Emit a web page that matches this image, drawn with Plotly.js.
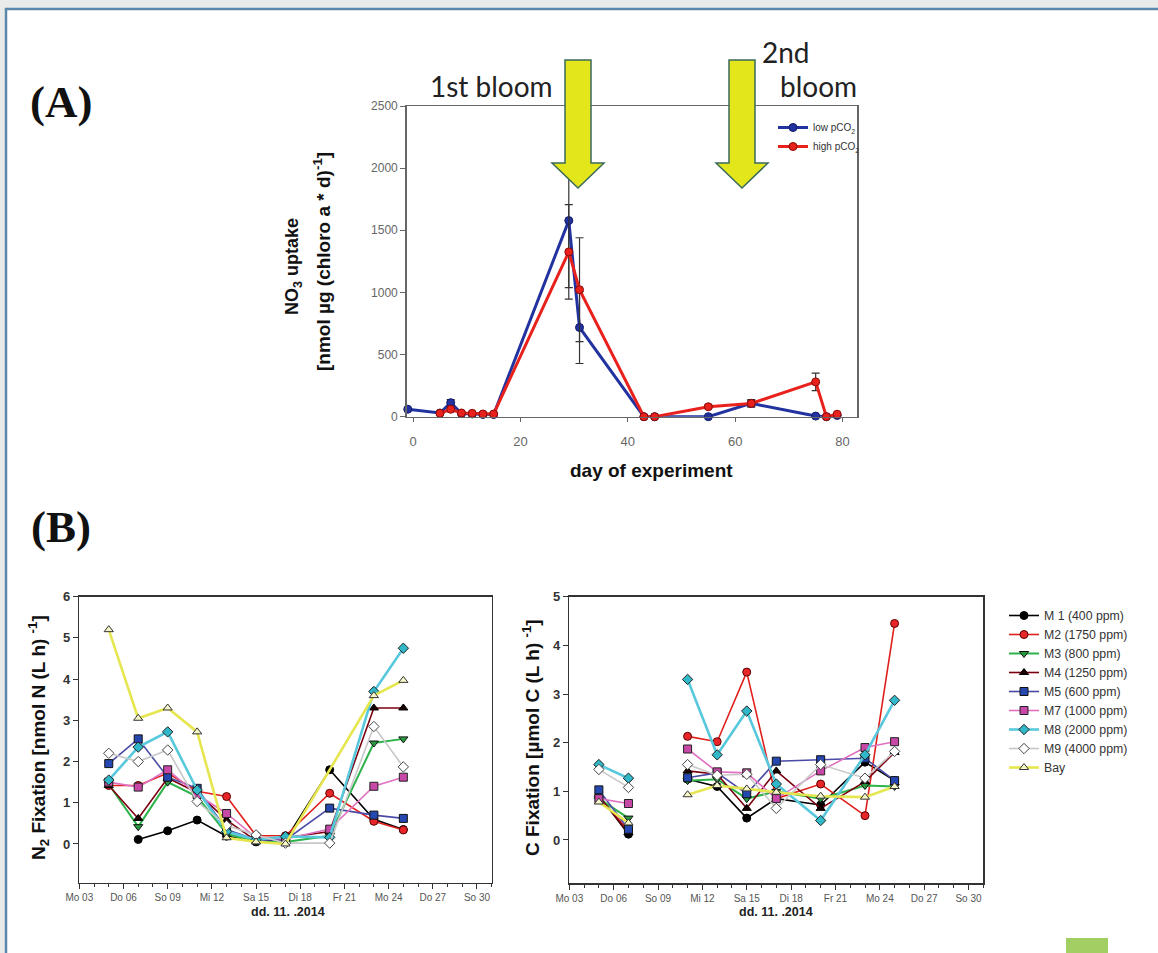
<!DOCTYPE html>
<html><head><meta charset="utf-8">
<script src="https://cdn.plot.ly/plotly-3.0.1.min.js"></script>
<style>html,body{margin:0;padding:0;background:#e9ebea}</style>
</head><body><div id="chart" style="width:1158px;height:953px"></div>
<script>
// ---------- Panel A data ----------
const dayLow  = [-1, 5, 7, 9, 11, 13, 15, 29, 31, 43, 45, 55, 63, 75, 77, 79];
const uptakeLow = [60, 30, 113, 25, 22, 18, 18, 1578, 718, 0, 0, 0, 107, 5, 0, 10];
const errLow  = [null, null, 25, null, null, null, null, 540, 290, null, null, null, 30, null, null, null];
const dayHigh = [5, 7, 9, 11, 13, 15, 29, 31, 43, 45, 55, 63, 75, 77, 79];
const uptakeHigh = [27, 60, 30, 27, 22, 22, 1326, 1022, 0, 0, 80, 107, 280, 0, 20];
const errHigh = [null, 20, null, null, null, null, 380, 418, null, null, 15, 25, 70, null, null];
const seriesA = ["low pCO<sub>2</sub>", "high pCO<sub>2</sub>"];
const ticksA_x = [0, 20, 40, 60, 80];
const ticksA_y = [0, 500, 1000, 1500, 2000, 2500];

// ---------- Panel B data (day of November 2014) ----------
const datesN2 = [5, 7, 9, 11, 13, 15, 17, 20, 23, 25];
const datesC  = [5, 7, 9, 11, 13, 15, 17, 20, 23, 25];
const dateTickVals = [3, 6, 9, 12, 15, 18, 21, 24, 27, 30];
const dateTickText = ["Mo 03", "Do 06", "So 09", "Mi 12", "Sa 15", "Di 18", "Fr 21", "Mo 24", "Do 27", "So 30"];
const seriesB = ["M 1 (400 ppm)", "M2 (1750 ppm)", "M3 (800 ppm)", "M4 (1250 ppm)", "M5 (600 ppm)",
                 "M7 (1000 ppm)", "M8 (2000 ppm)", "M9 (4000 ppm)", "Bay"];

const n2_M1  = [null, 0.11, 0.32, 0.58, 0.19, 0.05, 0.10, 1.80, 0.60, 0.35];
const n2_M2  = [1.42, 1.42, 1.72, 1.28, 1.15, 0.20, 0.20, 1.23, 0.55, 0.34];
const n2_M3  = [1.45, 0.42, 1.50, 1.15, 0.25, 0.05, 0.05, 0.20, 2.45, 2.55];
const n2_M4  = [1.42, 0.62, 1.60, 1.25, 0.58, 0.08, 0.15, 0.30, 3.30, 3.30];
const n2_M5  = [1.95, 2.55, 1.62, 1.35, 0.35, 0.10, 0.10, 0.87, 0.70, 0.62];
const n2_M7  = [1.50, 1.38, 1.80, 1.20, 0.74, 0.15, 0.12, 0.36, 1.40, 1.62];
const n2_M8  = [1.55, 2.35, 2.72, 1.31, 0.30, 0.10, 0.18, 0.16, 3.70, 4.75];
const n2_M9  = [2.20, 2.00, 2.28, 1.03, 0.45, 0.22, 0.02, 0.02, 2.85, 1.87];
const n2_Bay = [5.20, 3.05, 3.30, 2.72, 0.15, 0.05, 0.00, null, 3.60, 3.97];

const c_M1  = [0.92, 0.12, null, 1.25, 1.10, 0.45, 0.85, 0.72, 1.60, 1.22];
const c_M2  = [0.88, 0.20, null, 2.13, 2.02, 3.45, 0.85, 1.15, 0.50, 4.45];
const c_M3  = [0.85, 0.45, null, 1.22, 1.25, 0.85, 1.00, 0.85, 1.12, 1.10];
const c_M4  = [0.90, 0.15, null, 1.42, 1.35, 0.65, 1.42, 0.65, 1.20, 1.80];
const c_M5  = [1.03, 0.22, null, 1.28, 1.38, 0.95, 1.62, 1.65, 1.68, 1.22];
const c_M7  = [0.85, 0.75, null, 1.87, 1.40, 1.38, 0.85, 1.42, 1.90, 2.02];
const c_M8  = [1.55, 1.27, null, 3.30, 1.75, 2.65, 1.15, 0.40, 1.75, 2.87];
const c_M9  = [1.45, 1.08, null, 1.55, 1.33, 1.35, 0.65, 1.55, 1.27, 1.82];
const c_Bay = [0.78, 0.35, null, 0.93, 1.12, 1.05, 0.98, 0.90, 0.88, 1.10];

const n2Values = [n2_M1, n2_M2, n2_M3, n2_M4, n2_M5, n2_M7, n2_M8, n2_M9, n2_Bay];
const cValues  = [c_M1, c_M2, c_M3, c_M4, c_M5, c_M7, c_M8, c_M9, c_Bay];

// ---------- styles ----------
const W = 1158, H = 953;
const px = x => x / W;
const py = y => 1 - y / H;

const stylesB = [
  {line: '#000000', lw: 1.6, sym: 'circle',        fill: '#000000', edge: '#000000'},
  {line: '#e0201c', lw: 1.6, sym: 'circle',        fill: '#e8262a', edge: '#5a0000'},
  {line: '#2db34a', lw: 2.0, sym: 'triangle-down', fill: '#2a9a40', edge: '#111111'},
  {line: '#7a0010', lw: 1.6, sym: 'triangle-up',   fill: '#1a0000', edge: '#000000'},
  {line: '#4a4aa8', lw: 1.6, sym: 'square',        fill: '#2548b0', edge: '#111111'},
  {line: '#e070c0', lw: 1.6, sym: 'square',        fill: '#c848a8', edge: '#222222'},
  {line: '#58c8dc', lw: 2.6, sym: 'diamond',       fill: '#30b8c8', edge: '#222222'},
  {line: '#c8c8c8', lw: 1.6, sym: 'diamond',       fill: '#ffffff', edge: '#444444'},
  {line: '#e6e650', lw: 2.6, sym: 'triangle-up',   fill: '#f6f6c8', edge: '#333333'}
];

const traces = [];
// Panel A
traces.push({
  x: dayLow, y: uptakeLow, name: seriesA[0], type: 'scatter', mode: 'lines+markers',
  xaxis: 'x', yaxis: 'y', legend: 'legend', cliponaxis: false,
  line: {color: '#2233a0', width: 3},
  marker: {symbol: 'circle', size: 8, color: '#2233a0', line: {color: '#10186a', width: 1}},
  error_y: {type: 'data', array: errLow, visible: true, color: '#333', thickness: 1.2, width: 4}
});
traces.push({
  x: dayHigh, y: uptakeHigh, name: seriesA[1], type: 'scatter', mode: 'lines+markers',
  xaxis: 'x', yaxis: 'y', legend: 'legend', cliponaxis: false,
  line: {color: '#e8211c', width: 3},
  marker: {symbol: 'circle', size: 8, color: '#e8211c', line: {color: '#8a0a08', width: 1}},
  error_y: {type: 'data', array: errHigh, visible: true, color: '#333', thickness: 1.2, width: 4}
});
// Panel B
seriesB.forEach((nm, i) => {
  const s = stylesB[i];
  const common = {
    type: 'scatter', mode: 'lines+markers', name: nm, legendgroup: 'g' + i, cliponaxis: false,
    line: {color: s.line, width: s.lw},
    marker: {symbol: s.sym, size: 8, color: s.fill, line: {color: s.edge, width: 1}}
  };
  traces.push(Object.assign({}, common, {x: datesN2, y: n2Values[i], xaxis: 'x2', yaxis: 'y2',
    legend: 'legend2', showlegend: true, connectgaps: true}));
  traces.push(Object.assign({}, common, {x: datesC, y: cValues[i], xaxis: 'x3', yaxis: 'y3',
    legend: 'legend2', showlegend: false, connectgaps: false}));
});

const axisBase = {showline: true, mirror: true, showgrid: false, zeroline: false, ticks: 'outside'};

function arrowPath(cx) {
  const top = 60, base = 163, tip = 188, sh = 13, hh = 26;
  const pts = [[cx - sh, top], [cx + sh, top], [cx + sh, base], [cx + hh, base], [cx, tip], [cx - hh, base], [cx - sh, base]];
  return 'M ' + pts.map(p => px(p[0]) + ',' + py(p[1])).join(' L ') + ' Z';
}

const layout = {
  width: W, height: H, autosize: false,
  margin: {l: 0, r: 0, t: 0, b: 0},
  paper_bgcolor: '#e9ebea', plot_bgcolor: 'rgba(0,0,0,0)',
  font: {family: 'Liberation Sans, Arial, sans-serif', color: '#333'},
  xaxis: Object.assign({}, axisBase, {
    domain: [px(406.7), px(857)], range: [-1.2, 82.7], anchor: 'y',
    tickmode: 'array', tickvals: ticksA_x, ticklen: 4, tickcolor: '#666', ticklabelstandoff: 8,
    linecolor: '#666', linewidth: 1.5, tickfont: {size: 13, color: '#666'}
  }),
  yaxis: Object.assign({}, axisBase, {
    domain: [py(416.7), py(106)], range: [0, 2500], anchor: 'x',
    tickmode: 'array', tickvals: ticksA_y, ticklen: 5, tickcolor: '#666',
    linecolor: '#666', linewidth: 1.5, tickfont: {size: 12, color: '#666'}
  }),
  xaxis2: Object.assign({}, axisBase, {
    domain: [px(79.3), px(491.7)], range: [3, 31], anchor: 'y2',
    tickmode: 'array', tickvals: dateTickVals, ticktext: dateTickText, ticklen: 5, tickcolor: '#333',
    minor: {tickmode: 'linear', tick0: 3, dtick: 1, ticks: 'outside', ticklen: 3, tickcolor: '#333'},
    linecolor: '#333', linewidth: 1.5, tickfont: {size: 10, color: '#555'}
  }),
  yaxis2: Object.assign({}, axisBase, {
    domain: [py(882.7), py(596.7)], range: [-0.94, 6], anchor: 'x2',
    tickmode: 'array', tickvals: [0, 1, 2, 3, 4, 5, 6], ticklen: 5, tickcolor: '#333',
    linecolor: '#333', linewidth: 1.5, tickfont: {size: 13, color: '#333', weight: 'bold'}
  }),
  xaxis3: Object.assign({}, axisBase, {
    domain: [px(569.3), px(983.3)], range: [3, 31], anchor: 'y3',
    tickmode: 'array', tickvals: dateTickVals, ticktext: dateTickText, ticklen: 5, tickcolor: '#333',
    minor: {tickmode: 'linear', tick0: 3, dtick: 1, ticks: 'outside', ticklen: 3, tickcolor: '#333'},
    linecolor: '#333', linewidth: 1.5, tickfont: {size: 10, color: '#555'}
  }),
  yaxis3: Object.assign({}, axisBase, {
    domain: [py(883.3), py(596.7)], range: [-0.89, 5], anchor: 'x3',
    tickmode: 'array', tickvals: [0, 1, 2, 3, 4, 5], ticklen: 5, tickcolor: '#333',
    linecolor: '#333', linewidth: 1.5, tickfont: {size: 13, color: '#333', weight: 'bold'}
  }),
  legend: {x: px(773), y: py(113), xanchor: 'left', yanchor: 'top', bgcolor: 'rgba(0,0,0,0)',
           font: {size: 10, color: '#333'}, tracegroupgap: 0},
  legend2: {x: px(1004), y: py(601), xanchor: 'left', yanchor: 'top', bgcolor: 'rgba(0,0,0,0)',
            font: {size: 12.3, color: '#333'}, tracegroupgap: 0},
  shapes: [
    {type: 'rect', xref: 'paper', yref: 'paper', x0: px(6), x1: px(1175), y0: py(980), y1: py(9),
     fillcolor: '#ffffff', line: {color: '#5b87ab', width: 2.5}, layer: 'below'},
    {type: 'rect', xref: 'paper', yref: 'paper', x0: px(1066), x1: px(1108), y0: py(960), y1: py(938),
     fillcolor: '#a2cf63', line: {width: 0}, layer: 'below'},
    {type: 'path', xref: 'paper', yref: 'paper', path: arrowPath(578),
     fillcolor: '#e2e61a', line: {color: '#3b6a5a', width: 1.5}, layer: 'above'},
    {type: 'path', xref: 'paper', yref: 'paper', path: arrowPath(742),
     fillcolor: '#e2e61a', line: {color: '#3b6a5a', width: 1.5}, layer: 'above'}
  ],
  annotations: [
    {text: '<b>(A)</b>', x: px(61), y: py(102), font: {family: 'Liberation Serif, serif', size: 45, color: '#111'}},
    {text: '<b>(B)</b>', x: px(61), y: py(527), font: {family: 'Liberation Serif, serif', size: 45, color: '#111'}},
    {text: '1st bloom', x: px(491), y: py(86), font: {family: 'Lato, sans-serif', size: 28, color: '#222'}},
    {text: '2nd', x: px(786), y: py(52), font: {family: 'Lato, sans-serif', size: 28, color: '#222'}},
    {text: 'bloom', x: px(818), y: py(86), font: {family: 'Lato, sans-serif', size: 28, color: '#222'}},
    {text: '<b>NO<sub>3</sub> uptake</b>', x: px(293), y: py(266), textangle: -90, font: {size: 18, color: '#111'}},
    {text: '<b>[nmol µg (chloro a * d)<sup>-1</sup>]</b>', x: px(322), y: py(262), textangle: -90, font: {size: 19, color: '#111'}},
    {text: '<b>day of experiment</b>', x: px(651), y: py(470), font: {size: 19, color: '#111'}},
    {text: '<b>N<sub>2</sub> Fixation [nmol N (L h) <sup>-1</sup>]</b>', x: px(38), y: py(738), textangle: -90, font: {size: 19, color: '#111'}},
    {text: '<b>C Fixation [µmol C (L h) <sup>-1</sup>]</b>', x: px(531), y: py(738), textangle: -90, font: {size: 19, color: '#111'}},
    {text: '<b>dd. 11. .2014</b>', x: px(288), y: py(912), font: {size: 12.5, color: '#222'}},
    {text: '<b>dd. 11. .2014</b>', x: px(776), y: py(912), font: {size: 12.5, color: '#222'}}
  ].map(a => Object.assign({xref: 'paper', yref: 'paper', showarrow: false, xanchor: 'center', yanchor: 'middle'}, a))
};

Plotly.newPlot('chart', traces, layout, {displayModeBar: false, staticPlot: true});
</script>
</body></html>
